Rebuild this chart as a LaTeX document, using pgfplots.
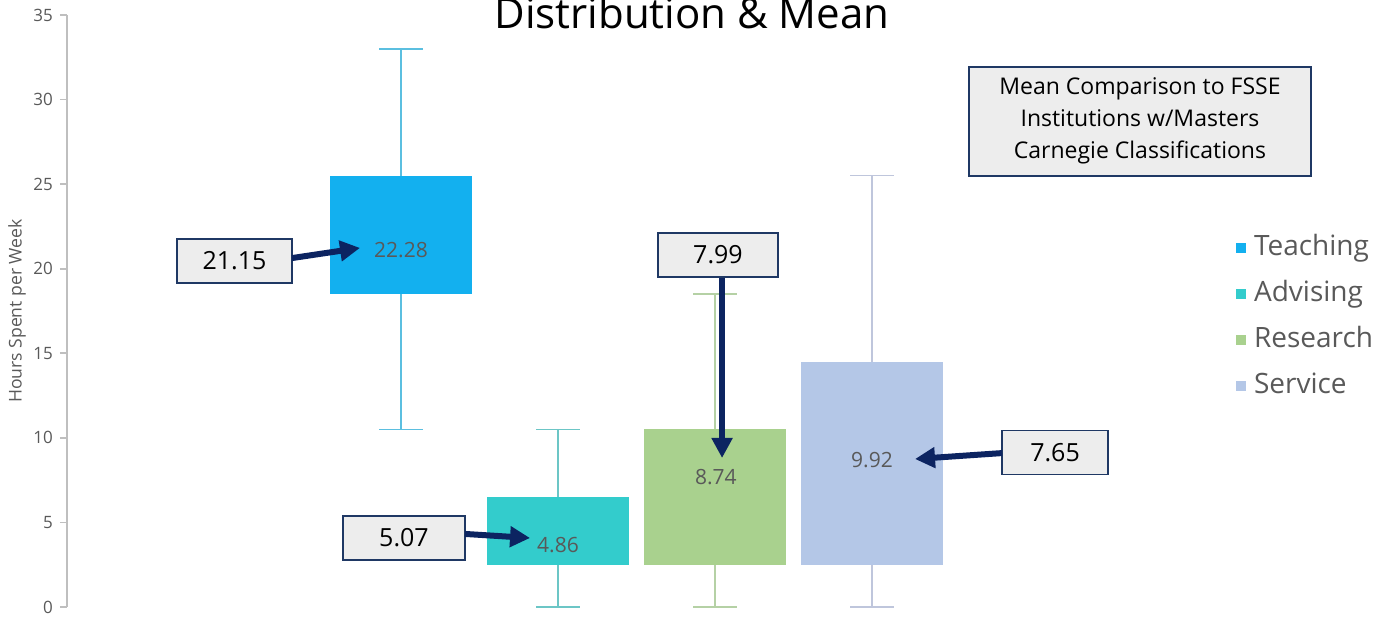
\documentclass[border=0pt]{standalone}
\usepackage{fontspec}
\setmainfont{Open Sans}
\usepackage{pgfplots}
\pgfplotsset{compat=1.18}
\usepgfplotslibrary{statistics}
\usetikzlibrary{arrows.meta}

\definecolor{tbox}{HTML}{13B0EF}
\definecolor{twhk}{HTML}{5BBFE0}
\definecolor{abox}{HTML}{33CCCC}
\definecolor{awhk}{HTML}{6CC6C6}
\definecolor{rbox}{HTML}{A9D18E}
\definecolor{rwhk}{HTML}{B5D1A5}
\definecolor{sbox}{HTML}{B4C7E7}
\definecolor{swhk}{HTML}{BFC6DC}
\definecolor{navy}{HTML}{0C2461}
\definecolor{txtgray}{HTML}{595959}
\definecolor{boxbg}{HTML}{EDEDED}
\definecolor{boxline}{HTML}{1F3864}

\begin{document}
\begin{tikzpicture}
\begin{axis}[
  scale only axis, width=659.5pt, height=296pt,
  xmin=-1.1274, xmax=7.2739, ymin=0, ymax=35,
  clip=false,
  axis x line=none, axis y line=left,
  y axis line style={-, draw=black!25, line width=0.8pt},
  ytick distance=5, tick align=outside, major tick length=3.5pt,
  ytick style={draw=black!25, line width=0.8pt},
  yticklabel style={font=\fontsize{8.5}{10}\selectfont, text=txtgray},
  /pgf/number format/assume math mode=true,
  ylabel={Hours Spent per Week},
  ylabel style={at={(axis description cs:-0.0379,0.5)}, rotate=0, anchor=center, font=\fontsize{8.8}{10}\selectfont, text=txtgray},
  title={Distribution \& Mean},
  title style={at={(axis description cs:0.4738,0.973)}, anchor=base, yshift=-5pt, font=\fontsize{21}{25}\selectfont},
  boxplot/draw direction=y,
  boxplot/box extend=0.91, boxplot/whisker extend=0.28,
  boxplot/every median/.style={draw=none},
  legend image code/.code={\fill[#1, draw=none] (0pt,-2.5pt) rectangle (5pt,2.5pt);},
  legend cell align=left,
  legend style={at={(axis description cs:0.886,0.632)}, anchor=north west,
    draw=none, fill=none, inner sep=0pt, column sep=4pt, row sep=8.5pt,
    font=\fontsize{14}{17}\selectfont, text=txtgray,
    nodes={inner sep=0pt, text height=11pt, text depth=3.5pt}},
]
% Teaching
\addplot[forget plot, draw=twhk, line width=0.8pt,
  boxplot/every box/.style={fill=tbox, draw=none},
  boxplot prepared={draw position=1, lower whisker=10.5, lower quartile=18.5,
    median=22, upper quartile=25.5, upper whisker=33}] coordinates {};
% Advising
\addplot[forget plot, draw=awhk, line width=0.8pt,
  boxplot/every box/.style={fill=abox, draw=none},
  boxplot prepared={draw position=2, lower whisker=0, lower quartile=2.5,
    median=4.5, upper quartile=6.5, upper whisker=10.5}] coordinates {};
% Research
\addplot[forget plot, draw=rwhk, line width=0.8pt,
  boxplot/every box/.style={fill=rbox, draw=none},
  boxplot prepared={draw position=3, lower whisker=0, lower quartile=2.5,
    median=6.5, upper quartile=10.5, upper whisker=18.5}] coordinates {};
% Service
\addplot[forget plot, draw=swhk, line width=0.8pt,
  boxplot/every box/.style={fill=sbox, draw=none},
  boxplot prepared={draw position=4, lower whisker=0, lower quartile=2.5,
    median=8.5, upper quartile=14.5, upper whisker=25.5}] coordinates {};

\addlegendimage{fill=tbox, draw=none}\addlegendentry{Teaching}
\addlegendimage{fill=abox, draw=none}\addlegendentry{Advising}
\addlegendimage{fill=rbox, draw=none}\addlegendentry{Research}
\addlegendimage{fill=sbox, draw=none}\addlegendentry{Service}

% mean labels inside boxes
\node[font=\fontsize{10.5}{12}\selectfont, text=txtgray] at (axis cs:1,21.1) {22.28};
\node[font=\fontsize{10.5}{12}\selectfont, text=txtgray] at (axis cs:2,3.67) {4.86};
\node[font=\fontsize{10.5}{12}\selectfont, text=txtgray] at (axis cs:3.006,7.69) {8.74};
\node[font=\fontsize{10.5}{12}\selectfont, text=txtgray] at (axis cs:4,8.69) {9.92};

% comparison boxes
\tikzset{cmp/.style={draw=boxline, fill=boxbg, line width=0.9pt, inner sep=0pt,
  minimum height=22pt, font=\fontsize{12.5}{15}\selectfont}}
\node[cmp, minimum width=57.5pt] at (axis cs:-0.0605,20.46) {21.15};
\node[cmp, minimum width=61pt] at (axis cs:1.019,4.08) {5.07};
\node[cmp, minimum width=60pt] at (axis cs:3.019,20.81) {7.99};
\node[cmp, minimum width=53pt] at (axis cs:5.166,9.13) {7.65};

\tikzset{arr/.style={navy, line width=3pt, -{Triangle[length=10pt,width=10pt]}}}
\draw[arr] (axis cs:0.306,20.63) -- (axis cs:0.739,21.23);
\draw[arr] (axis cs:1.408,4.32) -- (axis cs:1.822,4.08);
\draw[arr] (axis cs:3.045,19.45) -- (axis cs:3.045,8.81);
\draw[arr] (axis cs:4.828,9.10) -- (axis cs:4.274,8.75);

\node[draw=boxline, fill=boxbg, line width=0.9pt, minimum width=171pt,
  minimum height=54.5pt, align=center, font=\fontsize{11.5}{16}\selectfont]
  at (axis cs:5.707,28.70) {Mean Comparison to FSSE\\Institutions w/Masters\\\rule[-4pt]{0pt}{4pt}Carnegie Classifications};
\end{axis}
\pgfresetboundingbox
\path[use as bounding box] (-33.5pt,-5.5pt) rectangle (659.5pt,303.5pt);
\end{tikzpicture}
\end{document}
